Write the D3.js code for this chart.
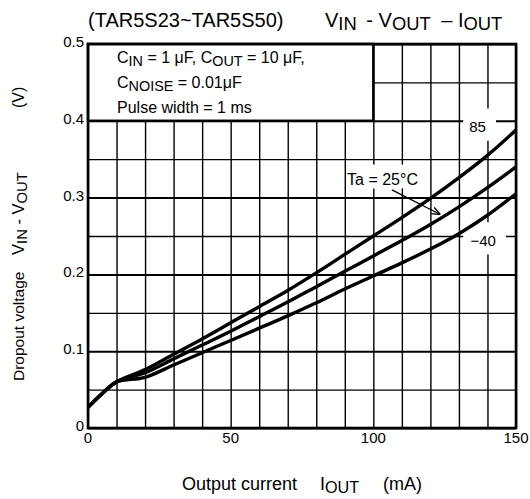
<!DOCTYPE html>
<html><head><meta charset="utf-8">
<script src="https://cdn.jsdelivr.net/npm/d3@7"></script>
<style>body{margin:0;background:#fff}svg{display:block;font-family:"Liberation Sans",Arial,sans-serif}</style>
</head><body><svg id="c" width="530" height="499"></svg>
<script>
// ---- data ----
const currents = [0, 5, 10, 20, 30, 40, 50, 60, 70, 80, 90, 100, 110, 120, 130, 140, 150];
const v85  = [0.027, 0.045, 0.060, 0.076, 0.096, 0.116, 0.137, 0.158, 0.179, 0.202, 0.226, 0.250, 0.274, 0.299, 0.326, 0.355, 0.388];
const v25  = [0.027, 0.045, 0.060, 0.072, 0.090, 0.108, 0.126, 0.145, 0.164, 0.184, 0.204, 0.224, 0.244, 0.265, 0.288, 0.313, 0.340];
const vm40 = [0.027, 0.045, 0.060, 0.066, 0.082, 0.098, 0.114, 0.130, 0.146, 0.163, 0.181, 0.198, 0.215, 0.233, 0.253, 0.277, 0.305];
const seriesLabels = ["85", "Ta = 25°C", "\u221240"];
const xTicks = [0, 50, 100, 150];
const yTicks = [0, 0.1, 0.2, 0.3, 0.4, 0.5];
const xGrid = d3.range(0, 151, 10);
const yGrid = d3.range(0, 0.501, 0.05);

const svg = d3.select("#c");
const x = d3.scaleLinear().domain([0, 150]).range([88, 516]);
const y = d3.scaleLinear().domain([0, 0.5]).range([428, 44]);
const W = x(150) - x(0), H = y(0) - y(0.5);

// grid
const gx = svg.append("g").attr("transform", `translate(0,${y(0)})`)
  .call(d3.axisBottom(x).tickValues(xGrid).tickSize(-H).tickFormat(""));
gx.select(".domain").remove();
gx.selectAll("line").attr("stroke", "#000").attr("stroke-width", 1.4);
const gy = svg.append("g").attr("transform", `translate(${x(0)},0)`)
  .call(d3.axisLeft(y).tickValues(yGrid).tickSize(-W).tickFormat(""));
gy.select(".domain").remove();
gy.selectAll("line").attr("stroke", "#000")
  .attr("stroke-width", d => (Math.round(d * 100) % 10 === 0) ? 2 : 1.3);

// white label backgrounds
const boxes = [
  [x(131.5), y(0.416), x(143), y(0.374)],
  [x(131.5), y(0.268), x(146.5), y(0.226)],
  [x(90.5), y(0.343), x(116.5), y(0.312)]
];
svg.append("g").selectAll("rect").data(boxes).join("rect")
  .attr("x", d => d[0]).attr("y", d => d[1])
  .attr("width", d => d[2] - d[0]).attr("height", d => d[3] - d[1])
  .attr("fill", "#fff");

// legend box
svg.append("rect").attr("x", x(0)).attr("y", y(0.5))
  .attr("width", x(100) - x(0)).attr("height", y(0.4) - y(0.5))
  .attr("fill", "#fff").attr("stroke", "#000").attr("stroke-width", 2.5);

// frame
svg.append("rect").attr("x", x(0)).attr("y", y(0.5)).attr("width", W).attr("height", H)
  .attr("fill", "none").attr("stroke", "#000").attr("stroke-width", 2.6);

// curves
const line = d3.line().x((d, i) => x(currents[i])).y(d => y(d)).curve(d3.curveCatmullRom.alpha(0.5));
svg.append("g").selectAll("path").data([v85, v25, vm40]).join("path")
  .attr("d", line).attr("fill", "none").attr("stroke", "#000")
  .attr("stroke-width", 3.4).attr("stroke-linejoin", "round");

// tick labels
svg.append("g").selectAll("text").data(yTicks).join("text")
  .attr("x", 84).attr("y", d => y(d) + 3).attr("text-anchor", "end")
  .attr("font-size", 15).text(d => d === 0 ? "0" : d3.format(".1f")(d));
svg.append("g").selectAll("text").data(xTicks).join("text")
  .attr("x", d => x(d)).attr("y", 443).attr("text-anchor", "middle")
  .attr("font-size", 15).text(d => d);

// series labels
svg.append("text").attr("x", x(136.5)).attr("y", y(0.385)).attr("text-anchor", "middle")
  .attr("font-size", 15).text(seriesLabels[0]);
svg.append("text").attr("x", x(138.5)).attr("y", y(0.237)).attr("text-anchor", "middle")
  .attr("font-size", 15).text(seriesLabels[2]);
svg.append("text").attr("x", x(90.8)).attr("y", y(0.317))
  .attr("font-size", 16).text(seriesLabels[1]);

// arrow
svg.append("defs").append("marker").attr("id", "ah").attr("viewBox", "0 0 10 10")
  .attr("refX", 10).attr("refY", 5).attr("markerWidth", 9).attr("markerHeight", 9)
  .attr("markerUnits", "userSpaceOnUse").attr("orient", "auto")
  .append("path").attr("d", "M0,1 L10,5 L0,9").attr("fill", "none").attr("stroke", "#000").attr("stroke-width", 1.4);
svg.append("line").attr("x1", x(106.5)).attr("y1", y(0.310)).attr("x2", x(123.5)).attr("y2", y(0.278))
  .attr("stroke", "#000").attr("stroke-width", 1.3).attr("marker-end", "url(#ah)");

// helper for text with subscripts
function rich(g, parts, size, subRatio) {
  const t = g.append("text").attr("font-size", size);
  parts.forEach(p => {
    const s = t.append("tspan").text(p.t);
    if (p.sub) s.attr("dy", 3).attr("font-size", size * (subRatio || 0.88));
    else if (p.back) s.attr("dy", -3);
    if (p.dx) s.attr("dx", p.dx);
  });
  return t;
}

// title
svg.append("text").attr("x", 88).attr("y", 27).attr("font-size", 20).text("(TAR5S23~TAR5S50)");
rich(svg.append("g").attr("transform", "translate(325,27)"), [
  {t: "V"}, {t: "IN", sub: true}, {t: " - V", back: true, dx: 4}, {t: "OUT", sub: true},
  {t: " \u2013 I", back: true, dx: 5}, {t: "OUT", sub: true}], 20, 0.92);

// legend text
rich(svg.append("g").attr("transform", "translate(117,63)"), [
  {t: "C"}, {t: "IN", sub: true}, {t: " = 1 \u03bcF, C", back: true}, {t: "OUT", sub: true},
  {t: " = 10 \u03bcF,", back: true}], 16, 0.9);
rich(svg.append("g").attr("transform", "translate(117,88)"), [
  {t: "C"}, {t: "NOISE", sub: true}, {t: " = 0.01\u03bcF", back: true}], 16, 0.9);
svg.append("text").attr("x", 117).attr("y", 112.5).attr("font-size", 16).text("Pulse width = 1 ms");

// axis titles
svg.append("text").attr("x", 182).attr("y", 490).attr("font-size", 18).text("Output current");
rich(svg.append("g").attr("transform", "translate(320,490)"), [{t: "I"}, {t: "OUT", sub: true}], 18, 0.9);
svg.append("text").attr("x", 383).attr("y", 490).attr("font-size", 18).text("(mA)");

svg.append("text").attr("transform", "translate(24,381) rotate(-90)").attr("font-size", 15.5).text("Dropout voltage");
rich(svg.append("g").attr("transform", "translate(24,255) rotate(-90)"), [
  {t: "V"}, {t: "IN", sub: true}, {t: " - V", back: true}, {t: "OUT", sub: true}], 16.5, 0.9);
svg.append("text").attr("transform", "translate(24,108) rotate(-90)").attr("font-size", 16).text("(V)");
</script></body></html>
